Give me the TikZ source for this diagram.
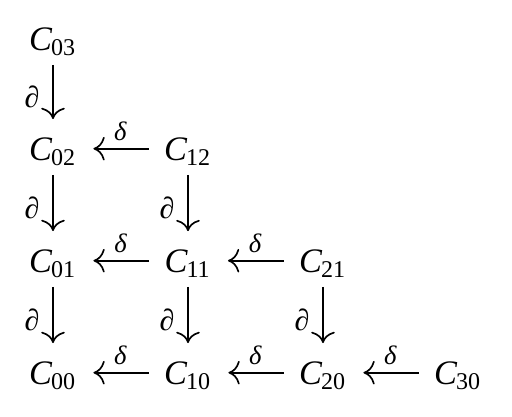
\documentclass[tikz,border=0pt]{standalone}
\usepackage{fontspec}
\setmainfont{Liberation Serif}
\usetikzlibrary{arrows.meta}

\newcommand{\cgrp}[1]{\textit{C}\kern-0.04em\textsubscript{#1}}
\newcommand{\bdry}{{\fontsize{9}{10}\selectfont\textit{∂}}}
\newcommand{\cobd}{\textit{δ}}

\tikzset{
  cterm/.style={inner sep=1pt, font=\fontsize{10.3}{12}\selectfont},
  maplabel/.style={inner sep=2pt, font=\fontsize{8}{9}\selectfont},
  vmap/.style={-{To[scale=1.25]}, line width=0.5pt, shorten >=4.5pt, shorten <=1.5pt},
  hmap/.style={-{To[scale=1.25]}, line width=0.5pt, shorten >=3.8pt, shorten <=3.5pt},
}

\begin{document}
\begin{tikzpicture}[x=0.3pt,y=-0.3pt]
  \useasboundingbox (0,0) rectangle (512,416);
  % column 0
  \node[cterm] (c03) at (53,42)  {\cgrp{03}};
  \node[cterm] (c02) at (53,152) {\cgrp{02}};
  \node[cterm] (c01) at (53,264) {\cgrp{01}};
  \node[cterm] (c00) at (53,376) {\cgrp{00}};
  % column 1
  \node[cterm] (c12) at (188,152) {\cgrp{12}};
  \node[cterm] (c11) at (188,264) {\cgrp{11}};
  \node[cterm] (c10) at (188,376) {\cgrp{10}};
  % column 2
  \node[cterm] (c21) at (323,264) {\cgrp{21}};
  \node[cterm] (c20) at (323,376) {\cgrp{20}};
  % column 3
  \node[cterm] (c30) at (458,376) {\cgrp{30}};

  % vertical maps
  \draw[vmap] (c03) -- node[maplabel, left=1.8pt] {\bdry} (c02);
  \draw[vmap] (c02) -- node[maplabel, left=1.8pt] {\bdry} (c01);
  \draw[vmap] (c01) -- node[maplabel, left=1.8pt] {\bdry} (c00);
  \draw[vmap] (c12) -- node[maplabel, left=1.8pt] {\bdry} (c11);
  \draw[vmap] (c11) -- node[maplabel, left=1.8pt] {\bdry} (c10);
  \draw[vmap] (c21) -- node[maplabel, left=1.8pt] {\bdry} (c20);

  % horizontal maps, on the axis a little above the centres
  \draw[hmap] ([yshift=1pt]c12.west) -- node[maplabel, above] {\cobd} ([yshift=1pt]c02.east);
  \draw[hmap] ([yshift=1pt]c11.west) -- node[maplabel, above] {\cobd} ([yshift=1pt]c01.east);
  \draw[hmap] ([yshift=1pt]c21.west) -- node[maplabel, above] {\cobd} ([yshift=1pt]c11.east);
  \draw[hmap] ([yshift=1pt]c10.west) -- node[maplabel, above] {\cobd} ([yshift=1pt]c00.east);
  \draw[hmap] ([yshift=1pt]c20.west) -- node[maplabel, above] {\cobd} ([yshift=1pt]c10.east);
  \draw[hmap] ([yshift=1pt]c30.west) -- node[maplabel, above] {\cobd} ([yshift=1pt]c20.east);
\end{tikzpicture}
\end{document}
